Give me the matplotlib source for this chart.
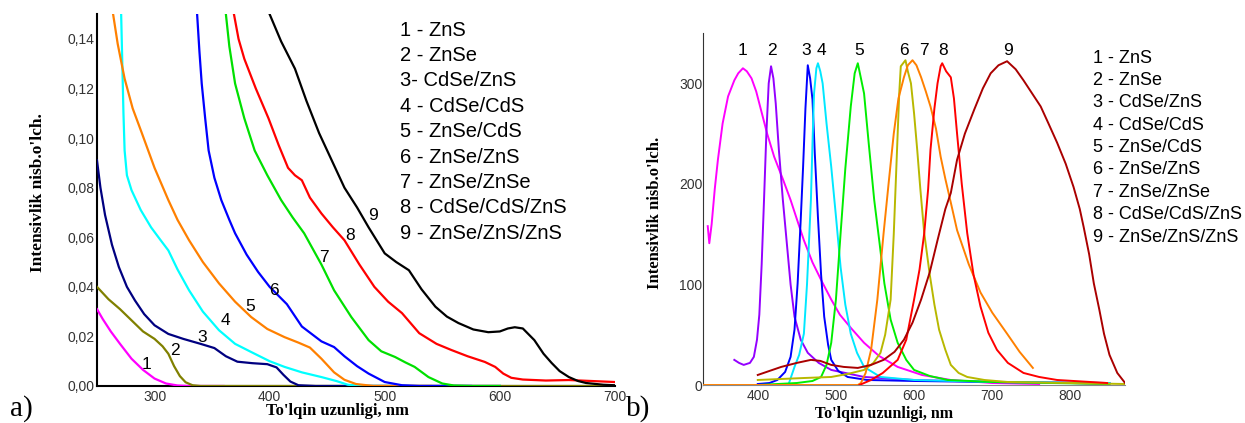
import numpy as np
import matplotlib.pyplot as plt

# a) yutilish spektrlari
abs_x = {
    1: [250, 255, 262, 270, 280, 290, 300, 310, 320, 330, 360],
    2: [250, 260, 270, 280, 290, 300, 307, 312, 317, 322, 327, 333, 340, 380, 700],
    3: [250, 253, 257, 263, 269, 276, 283, 291, 300, 312, 325, 340, 352, 362, 372, 385, 398, 406, 412, 418, 425, 440, 600],
    4: [271, 272, 273, 274, 276, 280, 288, 297, 305, 312, 320, 330, 342, 356, 370, 384, 400, 413, 428, 445, 458, 468, 480, 520],
    5: [264, 268, 274, 281, 289, 300, 312, 320, 330, 342, 356, 370, 384, 398, 413, 425, 435, 445, 456, 465, 475, 490, 540],
    6: [337, 339, 341, 344, 347, 352, 358, 365, 370, 380, 390, 400, 415, 428, 445, 456, 465, 476, 486, 500, 515, 530, 575],
    7: [362, 365, 370, 378, 387, 398, 410, 420, 430, 445, 456, 471, 486, 497, 509, 518, 526, 538, 550, 560, 575, 600],
    8: [369, 373, 378, 388, 399, 408, 416, 422, 428, 435, 445, 455, 465, 478, 491, 503, 515, 530, 545, 558, 572, 587, 596, 603, 610, 620, 640, 660, 680, 700],
    9: [400, 410, 422, 432, 443, 455, 465, 476, 486, 500, 510, 521, 532, 544, 554, 564, 577, 590, 600, 607, 613, 620, 630, 638, 645, 652, 660, 668, 675, 690, 700],
}
abs_y = {
    1: [0.031, 0.027, 0.022, 0.017, 0.011, 0.0065, 0.003, 0.001, 0.0002, 0, 0],
    2: [0.040, 0.035, 0.031, 0.0265, 0.022, 0.019, 0.016, 0.013, 0.008, 0.004, 0.0015, 0.0003, 0, 0, 0],
    3: [0.091, 0.080, 0.069, 0.057, 0.048, 0.040, 0.0345, 0.029, 0.0245, 0.021, 0.019, 0.017, 0.0153, 0.012, 0.0098, 0.0092, 0.0088, 0.0075, 0.0045, 0.0018, 0.0003, 0, 0],
    4: [0.15, 0.13, 0.11, 0.095, 0.085, 0.079, 0.071, 0.064, 0.059, 0.0547, 0.047, 0.0386, 0.030, 0.0225, 0.017, 0.0137, 0.010, 0.0077, 0.0055, 0.0036, 0.002, 0.0005, 0, 0],
    5: [0.15, 0.138, 0.124, 0.112, 0.102, 0.088, 0.075, 0.067, 0.0588, 0.050, 0.0414, 0.034, 0.0278, 0.023, 0.0197, 0.0175, 0.0155, 0.011, 0.0055, 0.0025, 0.0008, 0, 0],
    6: [0.15, 0.135, 0.122, 0.108, 0.095, 0.084, 0.075, 0.067, 0.0616, 0.053, 0.046, 0.040, 0.033, 0.024, 0.018, 0.0157, 0.012, 0.008, 0.005, 0.0016, 0.0003, 0, 0],
    7: [0.15, 0.137, 0.122, 0.108, 0.095, 0.085, 0.075, 0.068, 0.0616, 0.049, 0.0386, 0.0278, 0.0185, 0.014, 0.0117, 0.0095, 0.0077, 0.0036, 0.001, 0.0002, 0, 0],
    8: [0.15, 0.14, 0.132, 0.12, 0.108, 0.097, 0.088, 0.085, 0.083, 0.076, 0.0696, 0.064, 0.0588, 0.049, 0.040, 0.034, 0.0294, 0.0213, 0.017, 0.0145, 0.012, 0.0097, 0.0077, 0.005, 0.0033, 0.0026, 0.0022, 0.0024, 0.002, 0.0016],
    9: [0.15, 0.139, 0.128, 0.115, 0.102, 0.09, 0.080, 0.072, 0.064, 0.0535, 0.050, 0.0467, 0.039, 0.032, 0.028, 0.0254, 0.0228, 0.0217, 0.022, 0.0232, 0.0237, 0.0232, 0.0185, 0.013, 0.0093, 0.006, 0.0036, 0.002, 0.0012, 0.0005, 0.0003],
}
abs_colors = {1: '#ff00ff', 2: '#808000', 3: '#000080', 4: '#00ffff', 5: '#ff8000',
              6: '#0000ff', 7: '#00e000', 8: '#ff0000', 9: '#000000'}
abs_num_pos = {1: (293, 0.0085), 2: (318, 0.0145), 3: (341, 0.0197), 4: (362, 0.0266), 5: (383, 0.0322),
               6: (403.5, 0.0386), 7: (447, 0.0519), 8: (470, 0.0608), 9: (489.6, 0.0688)}
abs_legend = ['1 - ZnS', '2 - ZnSe', '3- CdSe/ZnS', '4 - CdSe/CdS', '5 - ZnSe/CdS',
              '6 - ZnSe/ZnS', '7 - ZnSe/ZnSe', '8 - CdSe/CdS/ZnS', '9 - ZnSe/ZnS/ZnS']

# b) lyuminessensiya spektrlari
pl_x = {
    1: [336, 338, 341, 345, 349, 355, 362, 370, 375, 381, 386, 392, 398, 404, 412, 421, 432, 442, 450, 459, 470, 482, 494, 505, 520, 536, 555, 579, 610, 647, 700, 760],
    2: [370, 376, 382, 390, 395, 399, 402, 405, 408, 411, 414, 417, 420, 423, 427, 432, 438, 442, 447, 455, 464, 478, 494, 536, 600, 700, 800, 850],
    3: [400, 415, 425, 435, 442, 447, 451, 455, 458, 461, 464, 467, 470, 473, 477, 481, 485, 490, 494, 503, 515, 540, 600, 700, 850],
    4: [440, 447, 453, 459, 463, 466, 468, 470, 472, 475, 477, 480, 483, 488, 494, 500, 506, 512, 519, 527, 536, 557, 600, 700, 850],
    5: [400, 450, 470, 481, 488, 494, 500, 506, 512, 519, 524, 528, 532, 536, 542, 549, 556, 562, 570, 579, 590, 600, 620, 643, 700, 850],
    6: [400, 430, 460, 494, 515, 536, 548, 557, 563, 570, 574, 577, 579, 581, 583, 586, 589, 592, 596, 600, 604, 608, 613, 620, 626, 632, 640, 647, 657, 668, 690, 720, 800, 870],
    7: [330, 400, 500, 528, 532, 538, 545, 553, 561, 568, 574, 580, 587, 592, 598, 603, 609, 615, 621, 628, 634, 640, 648, 655, 670, 685, 700, 719, 735, 752],
    8: [530, 545, 560, 579, 590, 600, 607, 613, 618, 621, 626, 630, 634, 636, 641, 647, 651, 655, 661, 668, 676, 685, 695, 706, 720, 740, 760, 783, 847],
    9: [400, 415, 430, 450, 468, 480, 494, 510, 528, 545, 561, 575, 587, 598, 609, 620, 630, 640, 647, 655, 665, 677, 688, 698, 708, 719, 730, 740, 751, 762, 772, 783, 794, 804, 812, 817, 824, 830, 837, 843, 850, 860, 870],
}
pl_y = {
    1: [158, 141, 160, 195, 224, 260, 287, 303, 310, 315, 312, 305, 292, 274, 250, 227, 205, 184, 165, 144, 122, 103, 85, 70, 56, 42, 29, 18, 10, 5, 2, 1],
    2: [25, 22, 20, 22, 28, 45, 70, 120, 184, 250, 300, 317, 305, 280, 234, 185, 134, 100, 68, 45, 32, 22, 15, 8, 5, 3, 2, 1],
    3: [1, 2, 5, 13, 28, 55, 101, 165, 217, 275, 318, 305, 284, 230, 167, 110, 68, 40, 25, 14, 8, 5, 4, 3, 2],
    4: [2, 18, 30, 51, 100, 150, 184, 240, 290, 315, 320, 312, 300, 260, 217, 168, 117, 80, 51, 32, 18, 8, 5, 3, 2],
    5: [0, 2, 4, 8, 20, 42, 85, 151, 215, 277, 310, 320, 305, 290, 240, 184, 140, 101, 65, 42, 25, 15, 9, 5, 3, 1],
    6: [5, 6, 7, 8, 11, 15, 22, 32, 50, 85, 150, 210, 250, 290, 317, 320, 323, 312, 300, 270, 234, 195, 151, 110, 80, 55, 35, 20, 12, 8, 5, 3, 2, 1],
    7: [0, 0, 0, 0, 2, 12, 35, 85, 151, 205, 250, 285, 306, 318, 323, 318, 306, 292, 277, 255, 227, 205, 178, 154, 120, 92, 72, 51, 33, 17],
    8: [0, 5, 12, 25, 45, 85, 115, 151, 195, 234, 275, 300, 317, 320, 312, 306, 285, 250, 200, 151, 110, 78, 52, 35, 22, 12, 8, 5, 2],
    9: [10, 14, 18, 22, 25, 24, 20, 18, 17, 20, 25, 33, 45, 62, 85, 112, 144, 175, 191, 224, 250, 274, 295, 310, 318, 322, 314, 303, 290, 277, 260, 241, 220, 197, 175, 157, 130, 101, 75, 51, 30, 12, 2],
}
pl_colors = {1: '#ff00ff', 2: '#9400ff', 3: '#0000ff', 4: '#00e8ff', 5: '#00ee00',
             6: '#b8b800', 7: '#ff8000', 8: '#ff0000', 9: '#aa0000'}
pl_num_x = {1: 381, 2: 418, 3: 462, 4: 482, 5: 530, 6: 587, 7: 612, 8: 637, 9: 720}
pl_legend = ['1 - ZnS', '2 - ZnSe', '3 - CdSe/ZnS', '4 - CdSe/CdS', '5 - ZnSe/CdS',
             '6 - ZnSe/ZnS', '7 - ZnSe/ZnSe', '8 - CdSe/CdS/ZnS', '9 - ZnSe/ZnS/ZnS']

plt.rcParams['font.family'] = ['Liberation Sans', 'DejaVu Sans']
serif = 'Liberation Serif'

fig = plt.figure(figsize=(12.45, 4.23), dpi=100)
ax1 = fig.add_axes([0.0779, 0.0875, 0.416, 0.879])
ax2 = fig.add_axes([0.5647, 0.0898, 0.339, 0.832])

for ax in (ax1, ax2):
    ax.spines['top'].set_visible(False)
    ax.spines['right'].set_visible(False)
    ax.tick_params(length=0, labelsize=10, colors='#333333')

# chap grafik
for k in range(1, 10):
    ax1.plot(abs_x[k], abs_y[k], color=abs_colors[k], lw=1.6, zorder=3)
    ax1.text(abs_num_pos[k][0], abs_num_pos[k][1], str(k), fontsize=12.5, ha='center', va='center')

ax1.set_xlim(250, 700)
ax1.set_ylim(0, 0.15)
ax1.set_xticks([300, 400, 500, 600, 700])
yt = np.arange(0, 0.141, 0.02)
ax1.set_yticks(yt)
ax1.set_yticklabels([('%.2f' % v).replace('.', ',') for v in yt])
ax1.tick_params(axis='y', pad=2)
ax1.tick_params(axis='x', pad=3)
ax1.spines['left'].set_linewidth(1.5)
ax1.spines['bottom'].set_linewidth(1.5)
ax1.set_ylabel("Intensivlik nisb.o'lch.", family=serif, weight='bold', fontsize=12.5)
ax1.yaxis.set_label_coords(-0.098, 0.52)
ax1.set_xlabel("To'lqin uzunligi, nm", family=serif, weight='bold', fontsize=12)
ax1.xaxis.set_label_coords(0.465, -0.045)
for i, s in enumerate(abs_legend):
    ax1.text(0.585, 0.957 - i * 0.0683, s, transform=ax1.transAxes, fontsize=14.5, va='center')

# o'ng grafik
for k in range(1, 10):
    ax2.plot(pl_x[k], pl_y[k], color=pl_colors[k], lw=1.4, zorder=3)
    ax2.text(pl_num_x[k], 333, str(k), fontsize=12.5, ha='center', va='center')

ax2.set_xlim(330, 870)
ax2.set_ylim(0, 350)
ax2.set_xticks([400, 500, 600, 700, 800])
ax2.set_yticks([0, 100, 200, 300])
ax2.tick_params(axis='y', pad=0.5)
ax2.tick_params(axis='x', pad=3)
ax2.spines['left'].set_color('#333333')
ax2.spines['bottom'].set_color('#888888')
ax2.set_ylabel("Intensivlik nisb.o'lch.", family=serif, weight='bold', fontsize=12)
ax2.yaxis.set_label_coords(-0.095, 0.49)
ax2.set_xlabel("To'lqin uzunligi, nm", family=serif, weight='bold', fontsize=11.5)
ax2.xaxis.set_label_coords(0.43, -0.06)
for i, s in enumerate(pl_legend):
    ax2.text(0.924, 0.929 - i * 0.0636, s, transform=ax2.transAxes, fontsize=13, va='center', clip_on=False)

fig.text(0.008, 0.035, 'a)', family=serif, fontsize=21, va='center')
fig.text(0.503, 0.035, 'b)', family=serif, fontsize=21, va='center')

fig.savefig('out.png', dpi=100)
